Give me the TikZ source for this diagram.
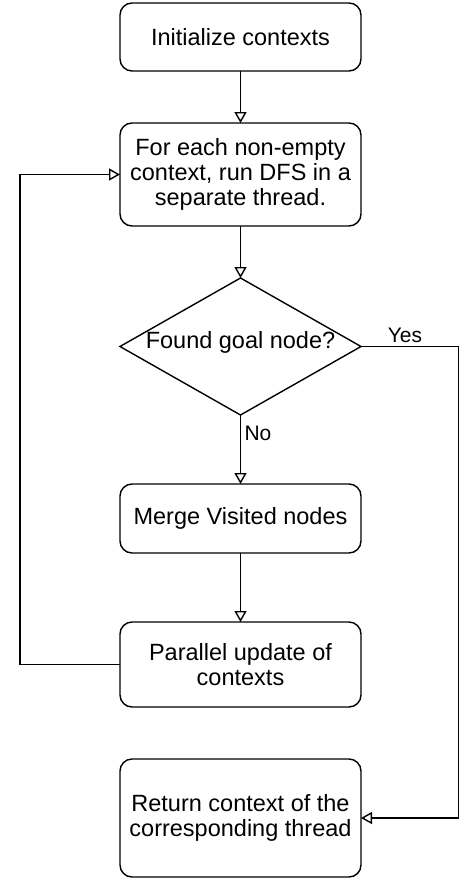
\documentclass[tikz,border=0pt]{standalone}
\usepackage{fontspec}
\setmainfont{Liberation Sans}
\usetikzlibrary{arrows.meta, positioning, shapes.geometric}

\begin{document}
\begin{tikzpicture}[
  x=1pt, y=1pt,
  stepbox/.style={draw, rounded corners=12pt, fill=white, minimum width=241pt,
               align=center, font=\fontsize{23.5}{25}\selectfont, line width=1.4pt,
               outer sep=0pt},
  decision/.style={draw, diamond, fill=white, minimum width=241pt,
               minimum height=137pt, inner sep=0pt, line width=1.4pt, outer sep=0pt},
  tag/.style={font=\fontsize{21}{23}\selectfont},
  >={Triangle[open, length=11pt, width=12pt]}, node distance=52pt
]
  \useasboundingbox (0,0) rectangle (460,-878);

  % Main steps
  \node[stepbox, minimum height=68pt] (init) at (240.5,-37) {Initialize contexts};
  \node[stepbox, minimum height=103pt, below=of init] (dfs)
       {For each non-empty\\context, run DFS in a\\separate thread.};
  \node[decision, below=of dfs] (goal) {};
  \node[font=\fontsize{23.5}{25}\selectfont, yshift=4pt] (goalq) at (goal) {Found goal node?};
  \node[stepbox, minimum height=69pt, below=69pt of goal] (merge) {Merge Visited nodes};
  \node[stepbox, minimum height=85pt, below=69pt of merge] (upd) {Parallel update of\\contexts};
  \node[stepbox, minimum height=118pt, below=of upd] (ret)
       {Return context of the\\corresponding thread};

  % Edges
  \draw[->, line width=1.4pt] (init) -- (dfs);
  \draw[->, line width=1.4pt] (dfs) -- (goal);
  \draw[->, line width=1.4pt] (goal) -- node[tag, right, pos=0.27] (no) {No} (merge);
  \draw[->, line width=1.4pt] (merge) -- (upd);

  % Loop back and exit
  \draw[->, line width=1.4pt] (upd.west) -- ++(-100,0) |- (dfs.west);
  \draw[->, line width=1.4pt] (goal.east) -- node[tag, above, pos=0.45] (yes) {Yes} ++(97.5,0)
       |- (ret.east);
\end{tikzpicture}
\end{document}
